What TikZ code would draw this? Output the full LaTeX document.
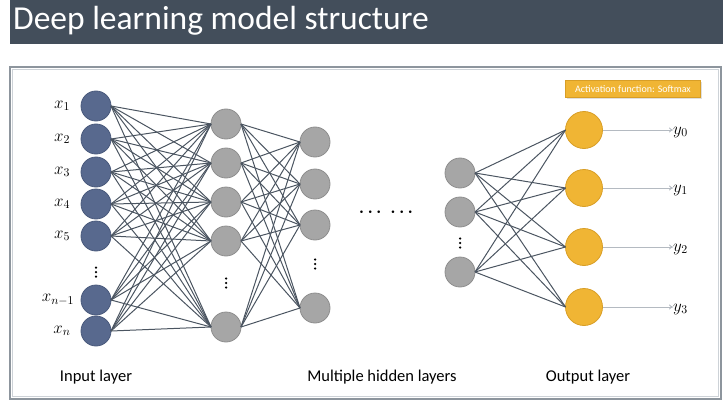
\documentclass[tikz,border=0pt]{standalone}
\usepackage{fix-cm}
\usepackage{fontspec}
\setmainfont{Carlito}
\usetikzlibrary{arrows.meta,shadows}
\definecolor{barcol}{HTML}{434E5B}
\definecolor{framecol}{HTML}{8D959D}
\definecolor{frameinner}{HTML}{CDD2D7}
\definecolor{incol}{HTML}{58698E}
\definecolor{indraw}{HTML}{4A5A7C}
\definecolor{hidcol}{HTML}{A6A6A6}
\definecolor{hiddraw}{HTML}{8E8E8E}
\definecolor{outcol}{HTML}{F0B534}
\definecolor{outdraw}{HTML}{D89E26}
\definecolor{linkcol}{HTML}{4B5561}
\definecolor{arrowcol}{HTML}{B4BAC1}
\newcommand{\skipdots}[1]{\foreach \d in {-4.5,0,4.5} \fill ([yshift=\d pt]#1) circle (1.25pt);}
\tikzstyle{neuron}=[circle, draw, line width=0.8pt, inner sep=0, outer sep=0, minimum size=30pt]
\tikzstyle{inneuron}=[neuron, fill=incol, draw=indraw]
\tikzstyle{hidneuron}=[neuron, fill=hidcol, draw=hiddraw]
\tikzstyle{outneuron}=[neuron, fill=outcol, draw=outdraw, minimum size=37pt]
\tikzstyle{varlabel}=[inner sep=0, font=\fontsize{17}{20}\selectfont]
\tikzstyle{layerlabel}=[inner sep=0, font=\fontsize{16.5}{20}\selectfont]
\tikzstyle{link}=[draw=linkcol, line width=1pt]
\tikzstyle{outarrow}=[draw=arrowcol, line width=0.9pt, -{To[length=4pt, width=5pt]}]

\begin{document}
\begin{tikzpicture}[x=1pt, y=-1pt]
        \useasboundingbox (0,0) rectangle (723,404);
        % title bar and frame
        \fill[barcol] (10,0) rectangle (723,44);
        \node[anchor=west, inner sep=0, text=white, font=\fontsize{33.5}{40}\selectfont] (title) at (13,21) {Deep learning model structure};
        \draw[framecol, line width=1.4pt] (10,67) rectangle (721,399);
        \draw[frameinner, line width=1pt] (12.5,69.5) rectangle (718.5,396.5);
        % input layer
        \node[inneuron] (X1) at (96,106) {};
        \node[inneuron] (X2) at (96,139) {};
        \node[inneuron] (X3) at (96,172) {};
        \node[inneuron] (X4) at (96,204) {};
        \node[inneuron] (X5) at (96,236) {};
        \coordinate     (Xdots) at (96,272);
        \node[inneuron] (X6) at (96,300) {};
        \node[inneuron] (X7) at (96,331) {};
        \node[varlabel] (X1lab) at (62,106) {$x_1$};
        \node[varlabel] (X2lab) at (62,139) {$x_2$};
        \node[varlabel] (X3lab) at (62,172) {$x_3$};
        \node[varlabel] (X4lab) at (62,204) {$x_4$};
        \node[varlabel] (X5lab) at (62,236) {$x_5$};
        \node[varlabel] (X6lab) at (58,300) {$x_{n-1}$};
        \node[varlabel] (X7lab) at (62,331) {$x_n$};
        % hidden layers
        \node[hidneuron] (H1) at (226,124) {};
        \node[hidneuron] (H2) at (226,163) {};
        \node[hidneuron] (H3) at (226,202) {};
        \node[hidneuron] (H4) at (226,241) {};
        \coordinate      (Hdots) at (226,283);
        \node[hidneuron] (H5) at (226,327) {};
        \node[hidneuron] (G1) at (315,142) {};
        \node[hidneuron] (G2) at (315,184) {};
        \node[hidneuron] (G3) at (315,225) {};
        \coordinate      (Gdots) at (315,264);
        \node[hidneuron] (G4) at (315,308) {};
        \node[inner sep=0, font=\fontsize{17}{20}\selectfont\boldmath] (Mdots) at (386,212) {$\cdots\;\cdots$};
        \node[hidneuron] (K1) at (460,173) {};
        \node[hidneuron] (K2) at (460,212) {};
        \coordinate      (Kdots) at (460,243);
        \node[hidneuron] (K3) at (460,272) {};
        \skipdots{Xdots}
        \skipdots{Hdots}
        \skipdots{Gdots}
        \skipdots{Kdots}
        % output layer
        \node[outneuron] (O0) at (584,130) {};
        \node[outneuron] (O1) at (584,188) {};
        \node[outneuron] (O2) at (584,247) {};
        \node[outneuron] (O3) at (584,307) {};
        \node[varlabel, anchor=west] (Y0) at (673,132) {$y_0$};
        \node[varlabel, anchor=west] (Y1) at (673,190) {$y_1$};
        \node[varlabel, anchor=west] (Y2) at (673,249) {$y_2$};
        \node[varlabel, anchor=west] (Y3) at (673,309) {$y_3$};
        \node[fill=outcol, draw=outdraw, line width=0.5pt, text=white, inner sep=0, minimum width=135pt, minimum height=17pt,
              font=\fontsize{10}{12}\selectfont, drop shadow={opacity=0.25, shadow xshift=1pt, shadow yshift=-1.5pt}] (act) at (633,89) {Activation function: Softmax};
        % layer names
        \node[layerlabel] (inname)  at (96,377)  {Input layer};
        \node[layerlabel] (hidname) at (382,377) {Multiple hidden layers};
        \node[layerlabel] (outname) at (588,377) {Output layer};
        % connections
        \foreach \i in {1,...,7} \foreach \j in {1,...,5} \draw[link] (X\i.east) -- (H\j.west);
        \foreach \i in {1,...,5} \foreach \j in {1,...,4} \draw[link] (H\i.east) -- (G\j.west);
        \foreach \i in {1,...,3} \foreach \j in {0,...,3} \draw[link] (K\i.east) -- (O\j.west);
        \foreach \j in {0,...,3} \draw[outarrow] (O\j.east) -- (O\j.east -| Y\j.west);
    \end{tikzpicture}
\end{document}
